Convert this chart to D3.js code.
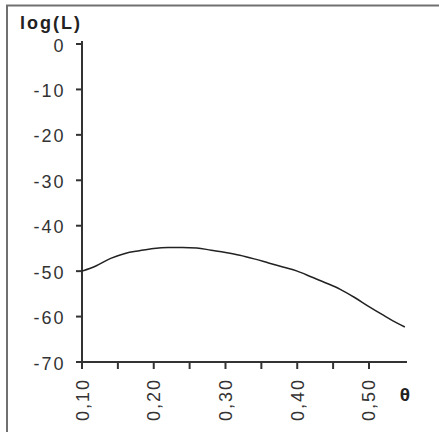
<!DOCTYPE html>
<html>
<head>
<meta charset="utf-8">
<script src="https://cdn.jsdelivr.net/npm/d3@7"></script>
<style>
  body { margin: 0; background: #fff; }
  text { font-family: "Liberation Sans", Arial, sans-serif; }
</style>
</head>
<body>
<div id="chart"></div>
<script>
// values
var theta = [0.10, 0.12, 0.14, 0.16, 0.18, 0.20, 0.22, 0.24, 0.26, 0.28, 0.30, 0.32,
             0.34, 0.36, 0.38, 0.40, 0.42, 0.44, 0.46, 0.48, 0.50, 0.52, 0.54, 0.55];
var logL = [-50.0, -48.8, -47.2, -46.1, -45.5, -45.0, -44.8, -44.8, -44.9, -45.4, -45.9, -46.5,
            -47.3, -48.2, -49.1, -50.0, -51.3, -52.6, -54.0, -55.8, -57.8, -59.7, -61.5, -62.3];
var y_ticks = [0, -10, -20, -30, -40, -50, -60, -70];
var x_ticks = [0.10, 0.15, 0.20, 0.25, 0.30, 0.35, 0.40, 0.45, 0.50];
var x_labels = [0.10, 0.20, 0.30, 0.40, 0.50];

var chart_width = 439;
var chart_height = 432;
var ink = '#333';

var svg = d3.select('#chart')
  .append('svg')
  .attr('width', chart_width)
  .attr('height', chart_height);

// frame (only left and top edges are visible)
svg.append('path')
  .attr('d', 'M7,' + chart_height + 'V5.5H' + chart_width)
  .attr('fill', 'none')
  .attr('stroke', '#707070')
  .attr('stroke-width', 2);

var x_scale = d3.scaleLinear()
  .domain([0.10, 0.553])
  .range([82, 407]);

var y_scale = d3.scaleLinear()
  .domain([-70, 0])
  .range([362, 44]);

// y axis
var y_axis = svg.append('g');
y_axis.append('line')
  .attr('x1', x_scale(0.10)).attr('x2', x_scale(0.10))
  .attr('y1', y_scale(0) - 3).attr('y2', y_scale(-70))
  .attr('stroke', ink).attr('stroke-width', 2);
y_axis.selectAll('.ytick')
  .data(y_ticks)
  .enter()
  .append('line')
  .attr('x1', x_scale(0.10) - 6)
  .attr('x2', x_scale(0.10))
  .attr('y1', function(d) { return y_scale(d); })
  .attr('y2', function(d) { return y_scale(d); })
  .attr('stroke', ink).attr('stroke-width', 2);
y_axis.selectAll('text')
  .data(y_ticks)
  .enter()
  .append('text')
  .text(function(d) { return d; })
  .attr('x', 65.5)
  .attr('y', function(d) { return y_scale(d) + 7.5; })
  .attr('text-anchor', 'end')
  .attr('font-size', '18px')
  .attr('letter-spacing', '2px')
  .attr('fill', ink);

// x axis
var x_axis = svg.append('g');
x_axis.append('line')
  .attr('x1', x_scale(0.10)).attr('x2', x_scale(0.553))
  .attr('y1', y_scale(-70)).attr('y2', y_scale(-70))
  .attr('stroke', ink).attr('stroke-width', 2);
x_axis.selectAll('.xtick')
  .data(x_ticks)
  .enter()
  .append('line')
  .attr('x1', function(d) { return x_scale(d); })
  .attr('x2', function(d) { return x_scale(d); })
  .attr('y1', y_scale(-70))
  .attr('y2', y_scale(-70) + 7)
  .attr('stroke', ink).attr('stroke-width', 2);
x_axis.selectAll('text')
  .data(x_labels)
  .enter()
  .append('text')
  .text(function(d) { return d3.format('.2f')(d).replace('.', ','); })
  .attr('transform', function(d) {
    return 'translate(' + (x_scale(d) + 6.5) + ',' + 378 + ') rotate(-90)';
  })
  .attr('text-anchor', 'end')
  .attr('font-size', '18px')
  .attr('letter-spacing', '2px')
  .attr('fill', ink);

// titles
svg.append('text')
  .text('log(L)')
  .attr('x', 20)
  .attr('y', 29)
  .attr('font-size', '18px')
  .attr('font-weight', 'bold')
  .attr('letter-spacing', '2px')
  .attr('fill', '#222');

svg.append('text')
  .text('θ')
  .attr('x', 405)
  .attr('y', 401)
  .attr('text-anchor', 'middle')
  .attr('font-size', '19px')
  .attr('font-weight', 'bold')
  .attr('fill', '#222');

// curve
var line = d3.line()
  .x(function(d, i) { return x_scale(theta[i]); })
  .y(function(d) { return y_scale(d); })
  .curve(d3.curveMonotoneX);

svg.append('path')
  .datum(logL)
  .attr('d', line)
  .attr('fill', 'none')
  .attr('stroke', '#222')
  .attr('stroke-width', 1.5);
</script>
</body>
</html>
